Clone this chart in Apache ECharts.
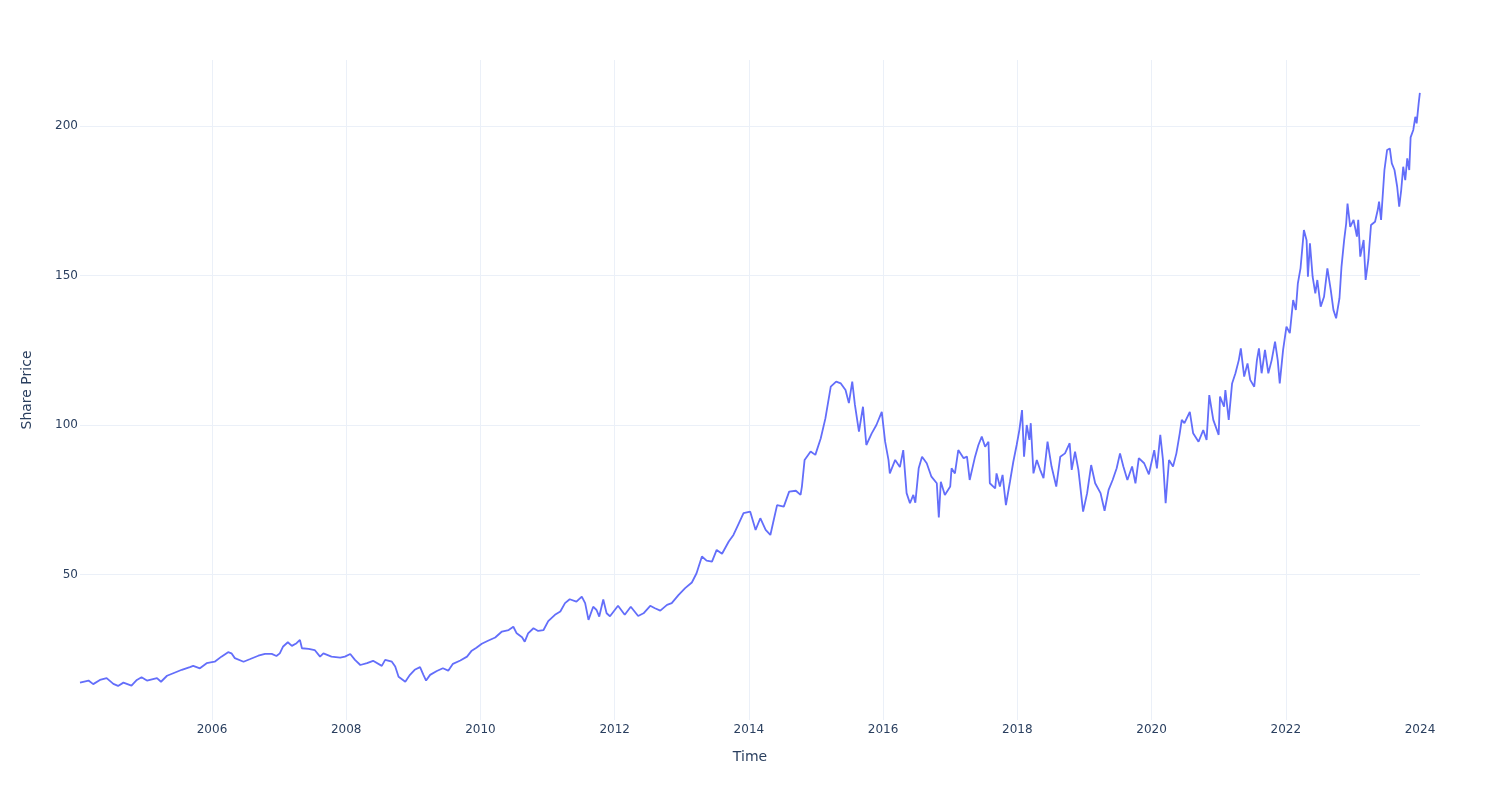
<!DOCTYPE html>
<html>
<head>
<meta charset="utf-8">
<script src="https://cdn.jsdelivr.net/npm/echarts@6/dist/echarts.min.js"></script>
<style>html,body{margin:0;padding:0;background:#fff}#chart{width:1500px;height:800px}</style>
</head>
<body>
<div id="chart"></div>
<script>
// Time positions (decimal years)
const timeYears = [
  2004.033,2004.16,2004.23,2004.33,2004.43,2004.53,2004.60,2004.68,2004.80,2004.88,2004.95,
  2005.03,2005.18,2005.24,2005.33,2005.45,2005.55,2005.67,2005.72,2005.82,2005.92,
  2006.04,2006.14,2006.24,2006.29,2006.34,2006.47,2006.57,2006.69,2006.79,2006.89,2006.96,
  2007.01,2007.06,2007.13,2007.19,2007.26,2007.31,2007.34,2007.44,2007.53,2007.61,2007.66,2007.78,2007.91,2007.98,
  2008.06,2008.13,2008.21,2008.31,2008.40,2008.53,2008.58,2008.68,2008.73,2008.78,2008.88,2008.95,
  2009.02,2009.10,2009.15,2009.19,2009.25,2009.35,2009.44,2009.52,2009.59,2009.70,2009.80,2009.87,2009.94,
  2010.02,2010.12,2010.22,2010.32,2010.42,2010.49,2010.54,2010.62,2010.66,2010.71,2010.79,2010.86,2010.94,
  2011.01,2011.11,2011.19,2011.26,2011.33,2011.43,2011.51,2011.56,2011.61,2011.68,2011.73,2011.77,2011.83,2011.88,2011.93,
  2012.05,2012.15,2012.24,2012.35,2012.43,2012.53,2012.60,2012.68,2012.78,2012.85,2012.95,
  2013.05,2013.15,2013.22,2013.30,2013.37,2013.45,2013.52,2013.60,2013.70,2013.77,2013.85,2013.92,
  2014.02,2014.10,2014.17,2014.25,2014.32,2014.37,2014.42,2014.52,2014.60,2014.70,2014.77,2014.79,2014.83,2014.92,2014.99,
  2015.07,2015.14,2015.22,2015.30,2015.37,2015.44,2015.49,2015.54,2015.58,2015.64,2015.70,2015.75,2015.83,2015.90,2015.98,
  2016.03,2016.08,2016.10,2016.18,2016.25,2016.30,2016.35,2016.40,2016.45,2016.48,2016.53,2016.58,2016.65,2016.72,2016.80,2016.83,2016.86,2016.92,
  2017.00,2017.02,2017.07,2017.12,2017.20,2017.25,2017.29,2017.37,2017.42,2017.47,2017.52,2017.57,2017.59,2017.67,2017.69,2017.74,2017.78,2017.83,2017.89,2017.94,2017.99,
  2018.03,2018.07,2018.10,2018.14,2018.18,2018.20,2018.24,2018.29,2018.34,2018.39,2018.45,2018.51,2018.58,2018.64,2018.71,2018.78,2018.81,2018.86,2018.91,2018.98,
  2019.04,2019.10,2019.16,2019.24,2019.30,2019.36,2019.42,2019.48,2019.53,2019.58,2019.64,2019.71,2019.76,2019.81,2019.89,2019.96,
  2020.04,2020.08,2020.13,2020.17,2020.21,2020.26,2020.32,2020.37,2020.42,2020.45,2020.49,2020.57,2020.62,2020.70,2020.77,2020.82,2020.86,2020.92,
  2021.00,2021.02,2021.08,2021.10,2021.15,2021.20,2021.25,2021.30,2021.33,2021.38,2021.43,2021.47,2021.53,2021.57,2021.60,2021.64,2021.69,2021.74,2021.79,2021.84,2021.88,2021.91,2021.96,
  2022.01,2022.06,2022.11,2022.15,2022.18,2022.22,2022.27,2022.31,2022.33,2022.36,2022.40,2022.44,2022.47,2022.52,2022.57,2022.62,2022.67,2022.71,2022.75,2022.80,2022.83,2022.87,2022.90,2022.92,2022.96,
  2023.01,2023.06,2023.08,2023.11,2023.16,2023.19,2023.23,2023.27,2023.33,2023.37,2023.39,2023.42,2023.45,2023.47,2023.51,2023.55,2023.58,2023.62,2023.66,2023.69,2023.72,2023.75,2023.78,2023.81,2023.84,2023.86,2023.90,2023.93,2023.95,2023.98,2023.998
];
// Share price values
const sharePrice = [
  13.8,14.5,13.3,14.7,15.3,13.4,12.7,13.8,12.8,14.7,15.6,
  14.5,15.3,14.1,16.1,17.2,18.1,19.0,19.4,18.6,20.3,
  20.8,22.5,24.0,23.6,22.0,20.8,21.7,22.8,23.4,23.4,22.7,
  23.6,25.9,27.3,26.1,27.0,28.1,25.3,25.1,24.7,22.5,23.6,22.5,22.2,22.5,
  23.4,21.4,19.7,20.3,21.1,19.4,21.4,20.8,19.2,15.8,14.1,16.4,
  18.1,19.0,16.4,14.5,16.4,17.7,18.6,17.8,20.1,21.2,22.5,24.5,25.5,
  26.8,27.9,28.9,30.9,31.4,32.5,30.3,29.0,27.5,30.3,32.0,31.1,31.4,
  34.4,36.5,37.6,40.4,41.7,40.9,42.6,40.4,34.8,39.2,38.1,35.9,41.6,37.0,36.0,
  39.5,36.5,39.2,36.1,37.0,39.5,38.7,37.9,39.8,40.4,43.1,
  45.4,47.3,50.4,56.0,54.6,54.3,58.2,56.9,61.0,63.2,67.1,70.5,
  71.0,64.9,68.8,64.9,63.2,68.2,73.2,72.7,77.7,78.0,76.6,79.4,88.3,91.1,90.0,
  95.5,102.2,112.8,114.5,113.9,111.7,107.3,114.5,106.7,97.8,106.1,93.3,97.2,100.0,104.4,
  94.4,88.3,83.8,88.3,85.9,91.6,77.2,73.8,76.6,74.0,85.5,89.4,87.2,82.7,80.5,69.1,81.0,76.6,
  79.4,85.5,83.8,91.6,88.9,89.4,81.6,89.4,93.3,96.1,92.7,94.4,80.5,78.8,83.8,79.4,83.3,73.2,81.0,87.7,93.3,
  98.3,105.0,89.4,100.0,95.0,100.6,83.8,88.3,85.0,82.2,94.4,86.1,79.4,89.4,90.5,93.9,85.0,91.1,85.0,71.0,
  77.2,86.6,80.5,77.2,71.3,78.3,81.6,85.5,90.5,86.1,81.6,86.1,80.5,88.9,87.2,83.5,
  91.6,85.5,96.7,88.3,73.8,88.3,86.1,90.5,97.2,101.7,100.6,104.4,97.2,94.4,98.3,95.0,110.0,101.7,
  96.7,109.5,106.1,111.7,101.7,113.9,117.3,121.7,125.6,116.2,120.6,115.1,112.8,121.7,125.6,117.3,125.1,117.3,121.7,127.9,121.7,113.9,125.1,
  132.9,130.7,141.8,138.5,147.4,152.5,165.2,161.8,149.6,160.8,149.6,144.0,148.5,139.6,142.9,152.4,145.2,138.5,135.7,142.4,152.9,161.9,167.4,174.1,166.3,
  168.6,163.0,168.6,156.3,161.9,148.5,155.2,166.9,168.0,171.9,174.7,168.6,178.6,185.3,192.0,192.5,187.5,185.3,179.7,173.0,178.6,186.4,181.9,189.2,185.3,196.2,198.7,203.1,200.9,207.6,211.1
];
const xAxisTitle = 'Time';
const yAxisTitle = 'Share Price';

const seriesData = timeYears.map((t, i) => [t, sharePrice[i]]);
const textColor = '#2a3f5f';
const gridColor = '#ebf0f8';
const fontFamily = 'DejaVu Sans';

const chart = echarts.init(document.getElementById('chart'), null, {renderer: 'canvas'});
chart.setOption({
  animation: false,
  backgroundColor: '#ffffff',
  grid: {left: 80, right: 80, top: 60, bottom: 80},
  xAxis: {
    type: 'value', min: 2004.033, max: 2024, splitNumber: 10,
    axisLine: {show: false}, axisTick: {show: false},
    axisLabel: {showMinLabel: false, color: textColor, fontFamily, fontSize: 12, margin: 4,
      formatter: v => String(Math.round(v))},
    splitLine: {show: true, showMinLine: false, showMaxLine: false, lineStyle: {color: gridColor, width: 1}},
    name: xAxisTitle, nameLocation: 'middle', nameGap: 30,
    nameTextStyle: {color: textColor, fontFamily, fontSize: 14}
  },
  yAxis: {
    type: 'value', min: 1.3, max: 222.1, splitNumber: 5,
    axisLine: {show: false}, axisTick: {show: false},
    axisLabel: {showMinLabel: false, showMaxLabel: false, color: textColor, fontFamily, fontSize: 12, margin: 2},
    splitLine: {show: true, showMinLine: false, showMaxLine: false, lineStyle: {color: gridColor, width: 1}},
    name: yAxisTitle, nameLocation: 'middle', nameGap: 46,
    nameTextStyle: {color: textColor, fontFamily, fontSize: 14}
  },
  series: [{
    type: 'line', data: seriesData, showSymbol: false, symbol: 'none',
    lineStyle: {color: '#636efa', width: 1.8}, itemStyle: {color: '#636efa'}
  }]
});
</script>
</body>
</html>
